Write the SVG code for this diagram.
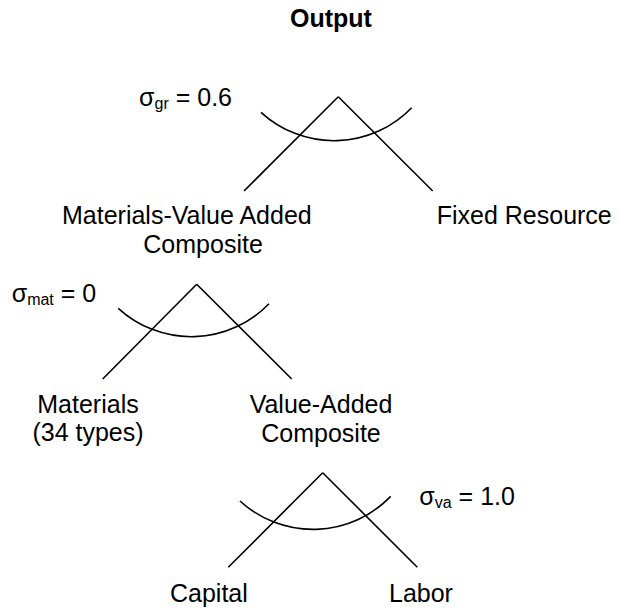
<svg xmlns="http://www.w3.org/2000/svg" width="619" height="609" viewBox="0 0 619 609">
  <style>
    .lbl { font-family: "Liberation Sans", Arial, sans-serif; font-size: 25px; fill: #000; }
    .title { font-weight: bold; }
    .sub { font-size: 16px; }
    .edge { stroke: #000; stroke-width: 1.6; fill: none; stroke-linecap: butt; }
    .arc { stroke: #000; stroke-width: 1.6; fill: none; }
  </style>
  <defs>
    <!-- elasticity arc: shared shape, placed at its left end -->
    <path id="nestArc" class="arc" d="M 0 0 A 108 108 0 0 0 150.7 -4.6"/>
  </defs>
  <rect width="619" height="609" fill="#fff"/>

  <!-- connectors: the two legs of each nest -->
  <g id="connectors">
    <path class="edge" d="M 338.3 96.7 L 244 191"/>
    <path class="edge" d="M 338.3 96.7 L 432.7 191"/>
    <path class="edge" d="M 196.7 284.3 L 102.7 379"/>
    <path class="edge" d="M 196.7 284.3 L 291.7 379"/>
    <path class="edge" d="M 322.7 472.7 L 228.3 567.3"/>
    <path class="edge" d="M 322.7 472.7 L 417.3 567.3"/>
  </g>

  <!-- substitution arcs with their elasticities -->
  <g id="elasticities">
    <use href="#nestArc" x="261" y="112.3"/>
    <use href="#nestArc" x="118.3" y="308.3"/>
    <use href="#nestArc" x="240" y="501"/>
    <text class="lbl" x="232" y="106" text-anchor="end">σ<tspan class="sub" dy="3">gr</tspan><tspan dy="-3"> = 0.6</tspan></text>
    <text class="lbl" x="11.7" y="302">σ<tspan class="sub" dy="3">mat</tspan><tspan dy="-3"> = 0</tspan></text>
    <text class="lbl" x="419.3" y="505">σ<tspan class="sub" dy="3">va</tspan><tspan dy="-3"> = 1.0</tspan></text>
  </g>

  <g id="output">
    <text class="lbl title" x="331" y="27" text-anchor="middle">Output</text>
  </g>
  <g id="materials-value-added-composite">
    <text class="lbl" x="62" y="224">Materials-Value Added</text>
    <text class="lbl" x="143.3" y="253">Composite</text>
  </g>
  <g id="fixed-resource">
    <text class="lbl" x="436.7" y="224">Fixed Resource</text>
  </g>
  <g id="materials">
    <text class="lbl" x="88" y="413" text-anchor="middle">Materials</text>
    <text class="lbl" x="88" y="441" text-anchor="middle">(34 types)</text>
  </g>
  <g id="value-added-composite">
    <text class="lbl" x="321" y="413" text-anchor="middle">Value-Added</text>
    <text class="lbl" x="321" y="442" text-anchor="middle">Composite</text>
  </g>
  <g id="capital">
    <text class="lbl" x="170" y="602">Capital</text>
  </g>
  <g id="labor">
    <text class="lbl" x="389" y="602">Labor</text>
  </g>
</svg>
